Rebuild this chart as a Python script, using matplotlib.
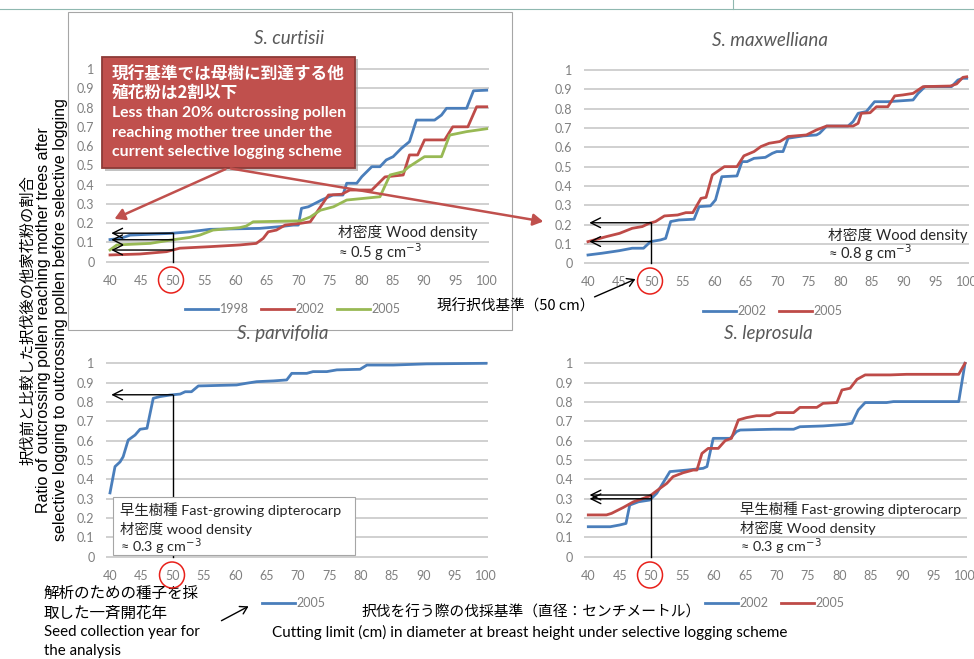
import numpy as np
import matplotlib
matplotlib.use('Agg')
import matplotlib.pyplot as plt
from matplotlib.patches import Rectangle, Ellipse, FancyArrowPatch

plt.rcParams['font.family'] = ['Lato', 'Noto Sans CJK JP', 'DejaVu Sans']

# ---- data ----
ticks = [40, 45, 50, 55, 60, 65, 70, 75, 80, 85, 90, 95, 100]
yticks = [0, 0.1, 0.2, 0.3, 0.4, 0.5, 0.6, 0.7, 0.8, 0.9, 1]
ytick_labels = ['0', '0.1', '0.2', '0.3', '0.4', '0.5', '0.6', '0.7', '0.8', '0.9', '1']

# S. curtisii
cur_x_1998 = [40, 41.6, 43.2, 49.6, 52.7, 55.9, 63.9, 67.1, 69.2, 70, 70.5, 71.6, 73.7, 75.5, 77.1, 77.7,
              79.3, 80.1, 81.7, 83, 84, 85.1, 86.4, 87.7, 88.8, 91.7, 92.8, 93.6, 96.8, 97.9, 100]
cur_y_1998 = [0.115, 0.12, 0.138, 0.147, 0.155, 0.168, 0.173, 0.182, 0.19, 0.19, 0.277, 0.285, 0.32, 0.346,
              0.346, 0.407, 0.407, 0.441, 0.493, 0.493, 0.528, 0.545, 0.588, 0.623, 0.735, 0.735, 0.761,
              0.796, 0.796, 0.887, 0.89]
cur_x_2002 = [40, 44.8, 49, 51.1, 55.9, 60.7, 63.3, 64.4, 65.2, 66.5, 67.9, 70.3, 71.9, 74.8, 76.9, 78.2,
              81.7, 83.8, 86.7, 87.7, 89, 90.1, 93.3, 94.6, 97, 98.4, 100]
cur_y_2002 = [0.035, 0.04, 0.052, 0.07, 0.078, 0.087, 0.095, 0.121, 0.155, 0.164, 0.19, 0.199, 0.207, 0.346,
              0.35, 0.372, 0.372, 0.44, 0.45, 0.554, 0.554, 0.632, 0.632, 0.70, 0.70, 0.804, 0.804]
cur_x_2005 = [40, 41.1, 46.4, 49.6, 52.7, 54.3, 56.4, 60.7, 61.7, 62.8, 70.3, 71.9, 73.5, 75.6, 77.7, 83,
              84.6, 86.7, 87.5, 90.1, 92.8, 94.1, 96.8, 100]
cur_y_2005 = [0.061, 0.087, 0.095, 0.112, 0.126, 0.138, 0.164, 0.177, 0.185, 0.207, 0.212, 0.232, 0.267,
              0.285, 0.32, 0.337, 0.45, 0.467, 0.49, 0.545, 0.545, 0.657, 0.675, 0.69]

# S. maxwelliana
max_x_2002 = [40, 42.2, 44.9, 47, 48.8, 49.9, 51.5, 52.3, 53.1, 54.4, 56.8, 57.6, 59.4, 60.2, 61.2, 63.6,
              64.4, 65.2, 66.3, 68.1, 69.2, 69.9, 70.9, 71.7, 74.1, 76.2, 76.7, 77.8, 81.2, 82, 82.8, 84.1,
              85.4, 87.5, 91.5, 92.3, 93.4, 97.6, 98.6, 99.4, 100]
max_y_2002 = [0.043, 0.052, 0.065, 0.078, 0.078, 0.112, 0.121, 0.129, 0.216, 0.224, 0.228, 0.293, 0.297,
              0.328, 0.448, 0.452, 0.526, 0.526, 0.543, 0.548, 0.569, 0.578, 0.578, 0.647, 0.659, 0.664,
              0.673, 0.710, 0.710, 0.733, 0.776, 0.785, 0.836, 0.836, 0.845, 0.879, 0.914, 0.914, 0.948,
              0.957, 0.957]
max_x_2005 = [40, 42.9, 45, 47, 48.6, 49.7, 50.7, 52.1, 54.2, 55.5, 56.6, 57.9, 58.7, 59.7, 61.6, 63.6,
              64.7, 66.3, 67.4, 68.7, 70.4, 71.7, 74.6, 76.2, 77.8, 82, 82.8, 83.3, 84.7, 85.7, 87.5, 88.6,
              89.9, 91.5, 93.1, 97.4, 98.4, 99.4, 100]
max_y_2005 = [0.112, 0.138, 0.155, 0.181, 0.190, 0.207, 0.216, 0.245, 0.250, 0.262, 0.262, 0.336, 0.341,
              0.457, 0.500, 0.500, 0.556, 0.578, 0.604, 0.621, 0.630, 0.656, 0.664, 0.690, 0.710, 0.710,
              0.724, 0.776, 0.779, 0.810, 0.810, 0.866, 0.871, 0.879, 0.914, 0.917, 0.928, 0.962, 0.965]

# S. parvifolia
par_x_2005 = [40, 40.8, 41.6, 42.1, 42.9, 44, 44.8, 45.9, 46.9, 48, 49.6, 51.2, 52, 53, 54.1, 55.4, 60.2,
              61.8, 63.4, 66.1, 68.2, 69, 71.4, 72.4, 74.6, 76.2, 79.9, 81, 85.2, 90.5, 100]
par_y_2005 = [0.33, 0.466, 0.49, 0.517, 0.603, 0.629, 0.659, 0.664, 0.819, 0.828, 0.836, 0.841, 0.853,
              0.853, 0.883, 0.884, 0.888, 0.897, 0.905, 0.909, 0.914, 0.948, 0.948, 0.957, 0.957, 0.966,
              0.969, 0.991, 0.991, 0.997, 1.0]

# S. leprosula
lep_x_2002 = [40, 43.5, 45, 46, 46.6, 48, 49.8, 50.9, 53, 55.7, 58.3, 58.9, 59.9, 62.6, 63.6, 64.2, 69.5,
              72.7, 73.7, 77.4, 80.9, 82, 83, 84.1, 87.5, 88.6, 99, 100]
lep_y_2002 = [0.155, 0.155, 0.164, 0.172, 0.267, 0.284, 0.293, 0.328, 0.44, 0.448, 0.457, 0.466, 0.612,
              0.612, 0.647, 0.655, 0.659, 0.659, 0.672, 0.676, 0.684, 0.69, 0.759, 0.797, 0.797, 0.802,
              0.802, 1.0]
lep_x_2005 = [40, 42.9, 43.7, 45.6, 47.2, 48.8, 49.8, 51.4, 52.5, 53.5, 55.1, 56.7, 57.3, 58.1, 59.1, 60.7,
              61.8, 62.8, 63.9, 65.2, 66.8, 68.9, 70, 72.7, 73.7, 76.4, 77.4, 79.6, 80.4, 81.7, 82.8, 84.1,
              88.1, 90.7, 99, 100]
lep_y_2005 = [0.216, 0.216, 0.224, 0.255, 0.284, 0.302, 0.314, 0.353, 0.379, 0.414, 0.434, 0.448, 0.448,
              0.534, 0.56, 0.56, 0.6, 0.612, 0.707, 0.719, 0.729, 0.729, 0.745, 0.745, 0.772, 0.772, 0.793,
              0.797, 0.862, 0.871, 0.917, 0.94, 0.94, 0.943, 0.943, 1.0]

limit = 50
BLUE = '#4A7EBB'
RED = '#BE4B48'
GREEN = '#98B954'
GRID = '#D0D0D0'
TICK = '#7F7F7F'
JP = ['Noto Sans CJK JP', 'DejaVu Sans']
EN = ['Lato', 'Noto Sans CJK JP', 'DejaVu Sans']

W, H = 974, 659
fig = plt.figure(figsize=(W / 100, H / 100), dpi=100)
fig.patch.set_facecolor('white')


def fx(x):
    return x / W


def fy(y):
    return 1 - y / H


def panel(x40, x100, y0, y1, title, tx, ty):
    xlim = (39.3, 100.3)
    ylim = (-0.01, 1.01)
    sx = (x100 - x40) / 60.0
    sy = (y0 - y1)
    left = x40 + (xlim[0] - 40) * sx
    right = x40 + (xlim[1] - 40) * sx
    bottom = y0 - ylim[0] * sy
    top = y0 - ylim[1] * sy
    ax = fig.add_axes([fx(left), fy(bottom), (right - left) / W, (bottom - top) / H])
    ax.set_xlim(*xlim)
    ax.set_ylim(*ylim)
    ax.set_xticks(ticks)
    ax.set_yticks(yticks)
    ax.set_yticklabels(ytick_labels)
    ax.tick_params(length=0, labelsize=9, labelcolor=TICK, pad=8)
    for s in ax.spines.values():
        s.set_visible(False)
    ax.grid(axis='y', color=GRID, lw=1.4)
    ax.set_axisbelow(True)
    ax.patch.set_alpha(0)
    fig.text(fx(tx), fy(ty), title, ha='center', va='center', fontsize=13.5,
             style='italic', color='#595959', family=EN)
    return ax


def guide(ax, ys, top):
    ax.plot([limit, limit], [0, top], color='black', lw=1.0, zorder=4)
    for y in ys:
        ax.annotate('', xy=(40.2, y), xytext=(limit, y),
                    arrowprops=dict(arrowstyle='->,head_length=0.7,head_width=0.35',
                                    color='black', lw=1.0, shrinkA=0, shrinkB=0), zorder=4)


def legend(ax, cx, cy):
    ax.legend(loc='center', bbox_to_anchor=(fx(cx), fy(cy)), bbox_transform=fig.transFigure,
              ncol=3, frameon=False, fontsize=9, labelcolor=TICK, handlelength=2.6,
              handletextpad=0.15, columnspacing=1.0)


lw = 2.0

# S. curtisii
ax1 = panel(110, 486.7, 261.7, 69, 'S. curtisii', 289, 39)
ax1.plot(cur_x_1998, cur_y_1998, color=BLUE, lw=lw, label='1998')
ax1.plot(cur_x_2002, cur_y_2002, color=RED, lw=lw, label='2002')
ax1.plot(cur_x_2005, cur_y_2005, color=GREEN, lw=lw, label='2005')
c = [np.interp(limit, cur_x_1998, cur_y_1998), np.interp(limit, cur_x_2002, cur_y_2002),
     np.interp(limit, cur_x_2005, cur_y_2005)]
guide(ax1, c, max(c))
legend(ax1, 293, 309)

# S. maxwelliana
ax2 = panel(588, 966.7, 263.3, 70, 'S. maxwelliana', 770, 40)
ax2.plot(max_x_2002, max_y_2002, color=BLUE, lw=lw, label='2002')
ax2.plot(max_x_2005, max_y_2005, color=RED, lw=lw, label='2005')
c = [np.interp(limit, max_x_2002, max_y_2002), np.interp(limit, max_x_2005, max_y_2005)]
guide(ax2, c, max(c))
legend(ax2, 773, 311)

# S. parvifolia
ax3 = panel(110, 486, 556.7, 363.3, 'S. parvifolia', 283, 333)
ax3.plot(par_x_2005, par_y_2005, color=BLUE, lw=lw, label='2005')
c = [np.interp(limit, par_x_2005, par_y_2005)]
guide(ax3, c, max(c))
legend(ax3, 294, 603)

# S. leprosula
ax4 = panel(588.3, 965, 556.7, 363.3, 'S. leprosula', 768, 333)
ax4.plot(lep_x_2002, lep_y_2002, color=BLUE, lw=lw, label='2002')
ax4.plot(lep_x_2005, lep_y_2005, color=RED, lw=lw, label='2005')
c = [np.interp(limit, lep_x_2002, lep_y_2002), np.interp(limit, lep_x_2005, lep_y_2005)]
guide(ax4, c, max(c))
legend(ax4, 775, 603)

# ---- figure-level decorations ----
def frect(x0, y0, x1, y1, **kw):
    r = Rectangle((fx(x0), fy(y1)), (x1 - x0) / W, (y1 - y0) / H, transform=fig.transFigure, **kw)
    fig.add_artist(r)
    return r


def farrow(x0, y0, x1, y1, **kw):
    a = FancyArrowPatch((fx(x0), fy(y0)), (fx(x1), fy(y1)), transform=fig.transFigure, **kw)
    fig.add_artist(a)
    return a


# page lines and panel frame
fig.add_artist(plt.Line2D([0, 1], [fy(9), fy(9)], transform=fig.transFigure, color='#8FB8B0', lw=0.8))
fig.add_artist(plt.Line2D([fx(733), fx(733)], [fy(0), fy(9)], transform=fig.transFigure, color='#8FB8B0', lw=0.8))
frect(68, 12, 512, 330, facecolor='none', edgecolor='#A6A6A6', lw=0.8, zorder=1)

# red circles around the 50 labels
for cx, cy in [(171, 280), (650, 281), (172, 575), (650, 575)]:
    fig.add_artist(Ellipse((fx(cx), fy(cy)), 25 / W, 26 / H, transform=fig.transFigure,
                           facecolor='none', edgecolor='#E8201A', lw=1.1, zorder=5))

# red callout box with arrows
frect(104.5, 59.5, 358, 171, facecolor='#9A9A9A', edgecolor='none', alpha=0.6, zorder=6)
frect(101.7, 56.7, 355, 168.3, facecolor='#C0504D', edgecolor='#8C3A37', lw=1.3, zorder=7)
box_lines = [('現行基準では母樹に到達する他', 75, 12, JP),
             ('殖花粉は2割以下', 93, 12, JP),
             ('Less than 20% outcrossing pollen', 113, 11.3, EN),
             ('reaching mother tree under the', 133, 11.3, EN),
             ('current selective logging scheme', 152, 11.3, EN)]
for t, y, fs, fam in box_lines:
    fig.text(fx(112), fy(y), t, ha='left', va='center', fontsize=fs, color='white',
             weight='bold', family=fam, zorder=8)
farrow(228, 168, 112, 220, arrowstyle='-|>,head_length=6,head_width=3.5', color='#C0504D',
       lw=1.8, zorder=8)
farrow(228, 168, 546, 222, arrowstyle='-|>,head_length=6,head_width=3.5', color='#C0504D',
       lw=1.8, zorder=8)

# wood density notes
def note(x, y, t, fs=10.6):
    fig.text(fx(x), fy(y), t, ha='left', va='center', fontsize=fs, color='#262626', family=EN, zorder=9)


note(338, 232, '材密度 Wood density')
note(338, 252, '≈ 0.5 g cm$^{-3}$')
note(828, 235, '材密度 Wood density')
note(828, 253, '≈ 0.8 g cm$^{-3}$')
frect(113, 497, 355, 555, facecolor='white', edgecolor='#A6A6A6', lw=0.8, zorder=8)
note(120, 510, '早生樹種 Fast-growing dipterocarp', 10.4)
note(120, 529, '材密度 wood density', 10.4)
note(120, 547, '≈ 0.3 g cm$^{-3}$', 10.4)
note(740, 509, '早生樹種 Fast-growing dipterocarp', 10.4)
note(740, 528, '材密度 Wood density', 10.4)
note(740, 547, '≈ 0.3 g cm$^{-3}$', 10.4)

# current cutting limit label
fig.text(fx(437), fy(306), '現行択伐基準（50 cm）', ha='left', va='center', fontsize=10.5,
         color='black', family=JP)
farrow(592, 298, 638, 278, arrowstyle='->,head_length=5,head_width=3', color='black', lw=1.0, zorder=9)

# y-axis label
fig.text(fx(28), fy(320), '択伐前と比較した択伐後の他家花粉の割合', rotation=90, ha='center', va='center',
         fontsize=11, family=JP)
fig.text(fx(44), fy(320), 'Ratio of outcrossing pollen reaching mother trees after', rotation=90,
         ha='center', va='center', fontsize=11.5, family=['Liberation Sans', 'DejaVu Sans'])
fig.text(fx(61), fy(320), 'selective logging to outcrossing pollen before selective logging', rotation=90,
         ha='center', va='center', fontsize=11.5, family=['Liberation Sans', 'DejaVu Sans'])

# bottom texts
fig.text(fx(44), fy(593), '解析のための種子を採', ha='left', va='center', fontsize=11.2, family=JP)
fig.text(fx(44), fy(613), '取した一斉開花年', ha='left', va='center', fontsize=11.2, family=JP)
fig.text(fx(44), fy(632), 'Seed collection year for', ha='left', va='center', fontsize=10.8, family=EN)
fig.text(fx(44), fy(651), 'the analysis', ha='left', va='center', fontsize=10.8, family=EN)
farrow(219, 622, 251, 605, arrowstyle='->,head_length=5,head_width=3', color='black', lw=1.0, zorder=9)
fig.text(fx(531), fy(612), '択伐を行う際の伐採基準（直径：センチメートル）', ha='center', va='center',
         fontsize=10.6, family=JP)
fig.text(fx(272), fy(632), 'Cutting limit (cm) in diameter at breast height under selective logging scheme',
         ha='left', va='center', fontsize=11, family=EN)

fig.savefig('out.png', dpi=100)
